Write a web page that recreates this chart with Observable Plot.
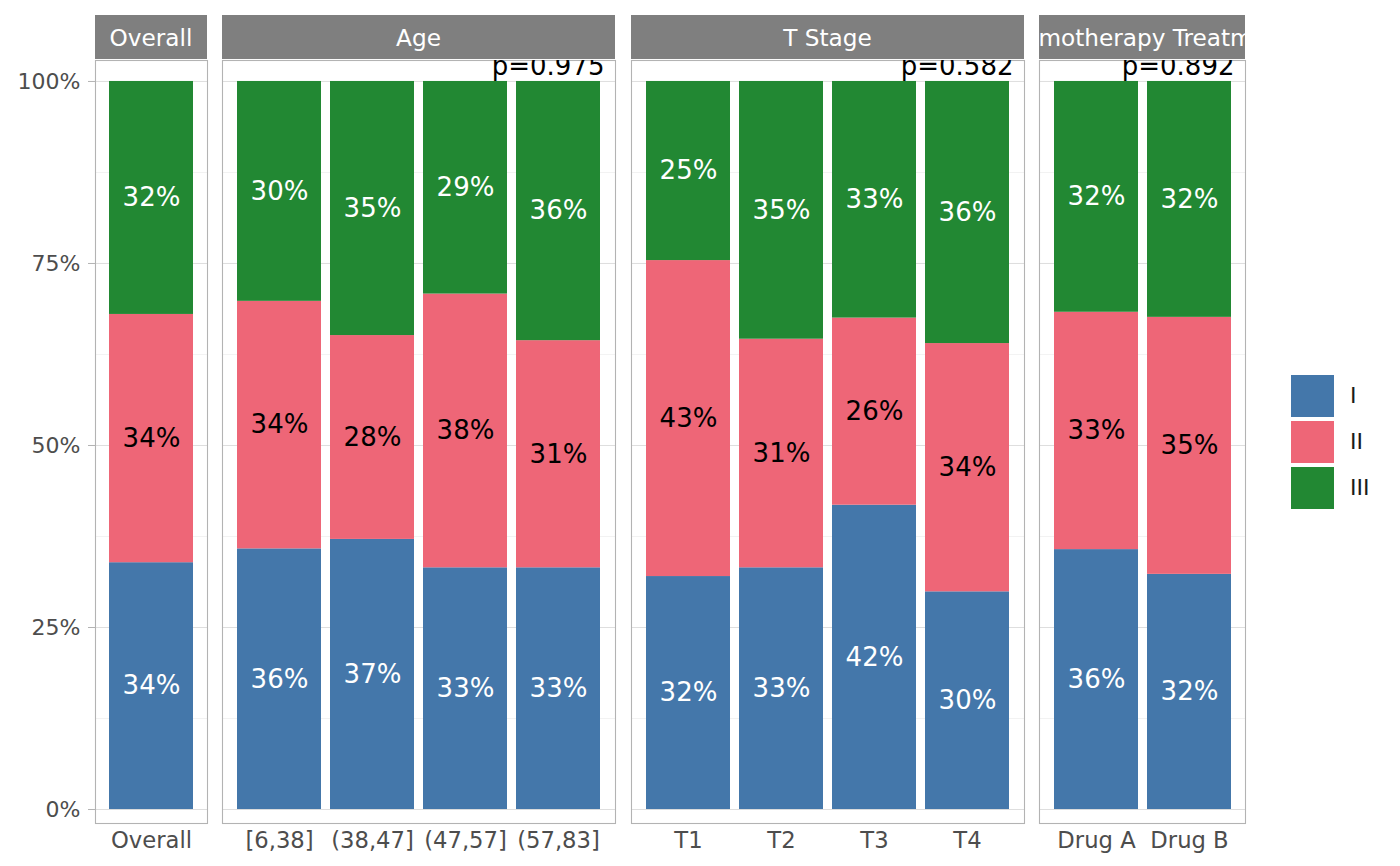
<!DOCTYPE html>
<html>
<head>
<meta charset="utf-8">
<script src="https://cdn.jsdelivr.net/npm/d3@7"></script>
<script src="https://cdn.jsdelivr.net/npm/@observablehq/plot@0.6"></script>
<style>
  html, body { margin: 0; padding: 0; background: #fff; }
  body { font-family: "DejaVu Sans", sans-serif; }
  #root { position: relative; width: 1400px; height: 866px; overflow: hidden; }
  .panel { position: absolute; top: 0; }
  .strip { position: absolute; top: 15px; height: 44px; background: #7f7f7f; color: #fff;
           font-size: 23.2px; display: flex; align-items: center; justify-content: center;
           overflow: hidden; white-space: nowrap; }
  .legend-item { position: absolute; left: 1291px; width: 43px; height: 42px; }
  .legend-label { position: absolute; left: 1350px; height: 42px; line-height: 42px; font-size: 22px; color: #1a1a1a; }
  g[aria-label="y-axis tick"] { stroke: #b3b3b3 !important; }
</style>
</head>
<body>
<div id="root"></div>
<script>
// ---- data ----
const grades = ["I", "II", "III"];
const gradeColors = ["#4477AA", "#EE6677", "#228833"];
const labelColors = ["white", "black", "white"];

const facetNames = ["Overall", "Age", "T Stage", "Chemotherapy Treatment"];
const overallLevels = ["Overall"];
const ageLevels = ["[6,38]", "(38,47]", "(47,57]", "(57,83]"];
const stageLevels = ["T1", "T2", "T3", "T4"];
const trtLevels = ["Drug A", "Drug B"];
const pValues = ["", "p=0.975", "p=0.582", "p=0.892"];

// proportions per category, in order: Overall, Age x4, T Stage x4, Treatment x2
const gradeI   = [0.339, 0.358, 0.371, 0.332, 0.332, 0.320, 0.332, 0.418, 0.299, 0.357, 0.323];
const gradeII  = [0.341, 0.340, 0.280, 0.376, 0.312, 0.434, 0.314, 0.257, 0.341, 0.326, 0.353];
const gradeIII = [0.320, 0.302, 0.349, 0.292, 0.356, 0.246, 0.354, 0.325, 0.360, 0.317, 0.324];

const yTicks = [0, 0.25, 0.5, 0.75, 1];
const yMinor = [0.125, 0.375, 0.625, 0.875];

// ---- build table ----
const levelSets = [overallLevels, ageLevels, stageLevels, trtLevels];
const gradeValues = [gradeI, gradeII, gradeIII];
const rows = [];
let k = 0;
levelSets.forEach((levels, f) => {
  levels.forEach(cat => {
    grades.forEach((g, gi) => rows.push({facet: facetNames[f], cat, grade: g, value: gradeValues[gi][k]}));
    k++;
  });
});

const fmt = d3.format(".0%");
const root = document.getElementById("root");

// layout of the panels (page pixels)
const panelLeft = [95, 222, 631, 1039];
const panelWidth = [112, 393, 393, 206];
const frameTop = 60, frameBottom = 823, H = 866;

levelSets.forEach((levels, f) => {
  const first = f === 0;
  const mL = first ? panelLeft[0] : 1;
  const data = rows.filter(r => r.facet === facetNames[f]);
  const marks = [
    Plot.gridY(yMinor, {stroke: "#ededed", strokeOpacity: 1, strokeWidth: 0.7}),
    Plot.gridY(yTicks, {stroke: "#dedede", strokeOpacity: 1, strokeWidth: 1}),
    Plot.barY(data, {
      x: "cat", y: "value", z: "grade", order: grades,
      fill: d => gradeColors[grades.indexOf(d.grade)]
    }),
    Plot.text(data, Plot.stackY({
      x: "cat", y: "value", z: "grade", order: grades,
      text: d => fmt(d.value),
      fill: d => labelColors[grades.indexOf(d.grade)],
      fontSize: 26
    })),
    Plot.axisX({tickSize: 0, tickPadding: 8, fontSize: 22.7, fill: "#4d4d4d", label: null}),
    Plot.frame({stroke: "#b3b3b3", strokeWidth: 1.1})
  ];
  if (first) {
    marks.push(Plot.axisY({ticks: yTicks, tickFormat: fmt, tickSize: 7, tickPadding: 8,
      fontSize: 22, fill: "#4d4d4d", label: null}));
  }
  if (pValues[f]) {
    marks.push(Plot.text([pValues[f]], {
      text: d => d, frameAnchor: "top-right", lineAnchor: "bottom",
      dx: -11, dy: 14, fontSize: 26, fill: "black", clip: true
    }));
  }
  const chart = Plot.plot({
    width: mL + panelWidth[f] + 1,
    height: H,
    marginLeft: mL, marginRight: 1,
    marginTop: frameTop, marginBottom: H - frameBottom,
    style: {fontFamily: "DejaVu Sans", background: "transparent", overflow: "visible"},
    x: {type: "band", domain: levels, paddingInner: 0.1, paddingOuter: 0.15, align: 0.5, axis: null},
    y: {domain: [-0.0192, 1.0288], axis: null},
    color: {type: "identity"},
    marks
  });
  chart.classList.add("panel");
  chart.style.left = (panelLeft[f] - mL) + "px";
  root.appendChild(chart);

  const strip = document.createElement("div");
  strip.className = "strip";
  strip.style.left = panelLeft[f] + "px";
  strip.style.width = panelWidth[f] + "px";
  const span = document.createElement("span");
  span.textContent = facetNames[f];
  strip.appendChild(span);
  root.appendChild(strip);
});

// legend
grades.forEach((g, i) => {
  const sw = document.createElement("div");
  sw.className = "legend-item";
  sw.style.top = (375 + i * 46) + "px";
  sw.style.background = gradeColors[i];
  root.appendChild(sw);
  const lab = document.createElement("div");
  lab.className = "legend-label";
  lab.style.top = (375 + i * 46) + "px";
  lab.textContent = g;
  root.appendChild(lab);
});
</script>
</body>
</html>
